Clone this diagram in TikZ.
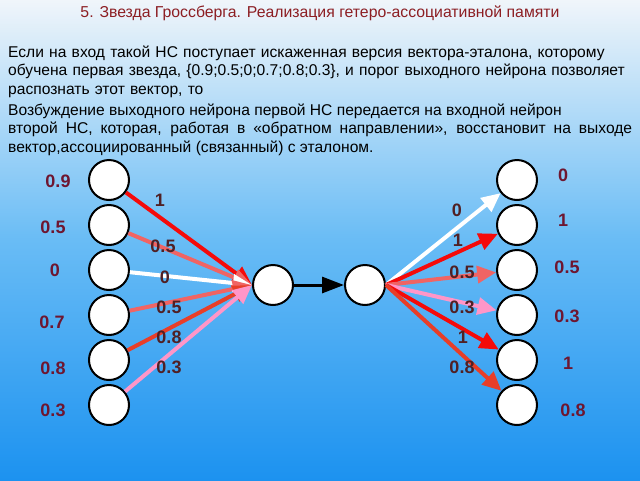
\documentclass[tikz,border=0pt]{standalone}
\usepackage{fontspec}
\setmainfont{Liberation Sans}
\usetikzlibrary{arrows.meta, positioning}
\definecolor{bgtop}{RGB}{240,245,250}
\definecolor{bgmid}{RGB}{105,188,245}
\definecolor{bgbot}{RGB}{28,146,240}
\definecolor{titlered}{RGB}{140,30,35}
\definecolor{valred}{RGB}{110,22,48}
\definecolor{wdark}{RGB}{80,32,36}
\definecolor{wred}{RGB}{245,10,10}
\definecolor{wsalmon}{RGB}{240,100,100}
\definecolor{worange}{RGB}{232,62,40}
\definecolor{wpink}{RGB}{255,150,200}
\tikzset{
	neuron/.style={draw, circle, line width=2pt, fill=white, minimum size=40pt, inner sep=0pt},
	inval/.style={text=valred, font=\fontsize{18}{18}\selectfont\bfseries},
	wlab/.style={text=wdark, font=\fontsize{18}{18}\selectfont\bfseries, inner sep=0pt},
	syn/.style={line width=4pt, -{Triangle[length=19pt, width=17pt]}},
	% paragraph text
	para/.style={anchor=base west, inner sep=0pt, text width=624pt, font=\fontsize{15.6}{18.5}\selectfont},
}

\begin{document}
\begin{tikzpicture}[x=1pt, y=-1pt]
	\fill[top color=bgtop, bottom color=bgbot, middle color=bgmid] (0,0) rectangle (640,480);
	\useasboundingbox (0,0) rectangle (640,480);

	\node (title) [anchor=base, text=titlered, font=\fontsize{15.8}{16}\selectfont] at (320,17)
		{5. Звезда Гроссберга. Реализация гетеро-ассоциативной памяти};
	\node (p1) [para, align=left] at (8,57)
		{Если на вход такой НС поступает искаженная версия вектора-эталона, которому\\
		обучена первая звезда, \{0.9;0.5;0;0.7;0.8;0.3\}, и порог выходного нейрона позволяет\\
		распознать этот вектор, то};
	\node (p2) [para, align=justify] at (8,115)
		{Возбуждение выходного нейрона первой НС передается на входной нейрон\\
		второй НС, которая, работая в «обратном направлении», восстановит на выходе\linebreak
		вектор,ассоциированный (связанный) с эталоном.};

	% neurons
	\foreach \i in {1,...,6} {
		\node (in\i) [neuron] at (109,{180+45*(\i-1)}) {};
		\node (out\i) [neuron] at (517,{180+45*(\i-1)}) {};
	}
	\node (mid1) [neuron] at (273,285) {};
	\node (mid2) [neuron] at (365,285) {};

	% input and output values
	\node (x1) [inval] at (58,181) {0.9};
	\node (x2) [inval] at (53,227) {0.5};
	\node (x3) [inval] at (55,270) {0};
	\node (x4) [inval] at (52,322) {0.7};
	\node (x5) [inval] at (53,368) {0.8};
	\node (x6) [inval] at (53,410) {0.3};
	\node (y1) [inval] at (563,175) {0};
	\node (y2) [inval] at (563,220) {1};
	\node (y3) [inval] at (567,267) {0.5};
	\node (y4) [inval] at (567,316) {0.3};
	\node (y5) [inval] at (568,363) {1};
	\node (y6) [inval] at (573,410) {0.8};

	\begin{scope}[syn]
		\draw[wred] (in1) -- (mid1.west);
		\draw[wsalmon] (in2) -- (mid1.west);
		\draw[white] (in3) -- (mid1.west);
		\draw[wsalmon] (in4) -- (mid1.west);
		\draw[worange] (in5) -- (mid1.west);
		\draw[wpink] (in6) -- (mid1.west);

		\draw[white] (mid2.east) -- (out1);
		\draw[wred] (mid2.east) -- (out2);
		\draw[wsalmon] (mid2.east) -- (out3);
		\draw[wpink] (mid2.east) -- (out4);
		\draw[wred] (mid2.east) -- (out5);
		\draw[worange] (mid2.east) -- (out6);
	\end{scope}
	\draw[line width=3pt, black, -{Triangle[length=22pt, width=16pt]}] (mid1) -- (mid2);

	% weights
	\node (wa1) [wlab] at (160,200) {1};
	\node (wa2) [wlab] at (163,246) {0.5};
	\node (wa3) [wlab] at (165,277) {0};
	\node (wa4) [wlab] at (169,307) {0.5};
	\node (wa5) [wlab] at (169,337) {0.8};
	\node (wa6) [wlab] at (169,367) {0.3};
	\node (wb1) [wlab] at (457,210) {0};
	\node (wb2) [wlab] at (458,240) {1};
	\node (wb3) [wlab] at (462,272) {0.5};
	\node (wb4) [wlab] at (462,307) {0.3};
	\node (wb5) [wlab] at (463,337) {1};
	\node (wb6) [wlab] at (462,367) {0.8};
\end{tikzpicture}
\end{document}
